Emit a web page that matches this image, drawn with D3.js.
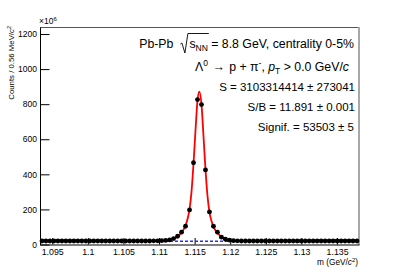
<!DOCTYPE html>
<html>
<head>
<meta charset="utf-8">
<script src="https://cdn.jsdelivr.net/npm/d3@7"></script>
<style>
  body { margin: 0; background: #fff; }
  svg { display: block; font-family: "Liberation Sans", Arial, sans-serif; }
</style>
</head>
<body>
<svg id="chart" width="399" height="272"></svg>
<script>
// histogram: 80 bins of 0.56 MeV around the Lambda mass (counts in units of 1e6)
const massLow = 1.093283;
const binWidth = 0.00056;
const counts = [
  20, 20, 20, 20, 20, 20, 20, 20, 20, 20,
  20, 20, 20, 20, 20, 20, 20, 20, 20, 20,
  20, 20, 20, 20, 20, 20, 20, 20, 21, 21,
  22, 23, 26, 34, 47, 70, 104, 197, 466, 826,
  798, 425, 186, 104, 70, 42, 30, 25, 22, 21,
  20, 20, 20, 20, 20, 20, 20, 20, 20, 20,
  20, 20, 20, 20, 20, 20, 20, 20, 20, 20,
  20, 20, 20, 20, 20, 20, 20, 20, 20, 20
];

// fit curve (signal + background)
const fitMass = [1.09328, 1.10873, 1.11014, 1.11084, 1.11148, 1.11205, 1.11261, 1.11317,
  1.11372, 1.11400, 1.11428, 1.11456, 1.11484, 1.11512, 1.11540, 1.11565, 1.11596,
  1.11624, 1.11652, 1.11680, 1.11708, 1.11736, 1.11764, 1.11820, 1.11876, 1.11932,
  1.11988, 1.12067, 1.12207, 1.13808];
const fitCounts = [19, 19.5, 20.5, 22, 25, 32, 45, 68,
  108, 145, 200, 300, 460, 650, 820, 872, 800,
  620, 430, 280, 185, 135, 102, 66, 44, 32,
  26, 22, 20, 19];

// background only
const bkgMass = [1.093283, 1.138083];
const bkgCounts = [18, 18];

const xTicks = [1.095, 1.1, 1.105, 1.11, 1.115, 1.12, 1.125, 1.13, 1.135];
const xMinor = d3.range(1094, 1139).map(d => d / 1000);
const yTicks = [0, 200, 400, 600, 800, 1000, 1200];
const yMinor = d3.range(0, 1240, 50);

const svg = d3.select("#chart");

const x = d3.scaleLinear()
  .domain([massLow, massLow + binWidth * counts.length])
  .range([40, 359]);
const y = d3.scaleLinear().domain([0, 1240]).range([244.5, 27]);

// frame: top and right borders
svg.append("line").attr("x1", 40).attr("x2", 359).attr("y1", 27.5).attr("y2", 27.5)
  .attr("stroke", "#555").attr("stroke-width", 1);
svg.append("line").attr("x1", 359).attr("x2", 359).attr("y1", 27).attr("y2", 245)
  .attr("stroke", "#a8a8a8").attr("stroke-width", 2);

// x axis
const gx = svg.append("g").attr("transform", "translate(0,244.5)");
gx.call(d3.axisBottom(x).tickValues(xMinor).tickSize(-3.3).tickSizeOuter(0).tickFormat(""));
gx.call(d3.axisBottom(x).tickValues(xTicks).tickSize(-6.5).tickSizeOuter(0).tickPadding(4)
  .tickFormat(d => String(+d.toFixed(3))));
gx.selectAll("text").attr("font-size", 8.8).attr("font-family", "Liberation Sans, Arial, sans-serif")
  .attr("fill", "#000");

// y axis
const gy = svg.append("g").attr("transform", "translate(40,0)");
gy.call(d3.axisLeft(y).tickValues(yMinor).tickSize(-4.8).tickSizeOuter(0).tickFormat(""));
gy.call(d3.axisLeft(y).tickValues(yTicks).tickSize(-9.5).tickSizeOuter(0).tickPadding(3)
  .tickFormat(d3.format("d")));
gy.selectAll("text").attr("font-size", 8.5).attr("font-family", "Liberation Sans, Arial, sans-serif")
  .attr("fill", "#000");

svg.selectAll(".domain").attr("stroke", "#000");
svg.selectAll(".tick line").attr("stroke", "#000");

// exponent label
const ex = svg.append("text").attr("x", 39).attr("y", 24).attr("font-size", 8.5);
ex.append("tspan").text("\u00d710");
ex.append("tspan").attr("dy", -3.5).attr("font-size", 6).text("6");

// axis titles
const yt = svg.append("text").attr("transform", "translate(14,26) rotate(-90)")
  .attr("text-anchor", "end").attr("font-size", 7.8);
yt.append("tspan").text("Counts / 0.56 MeV/");
yt.append("tspan").attr("font-style", "italic").text("c");
yt.append("tspan").attr("dy", -3.5).attr("font-size", 5.5).text("2");

const xt = svg.append("text").attr("x", 358).attr("y", 265).attr("text-anchor", "end")
  .attr("font-size", 8.3);
xt.append("tspan").text("m (GeV/");
xt.append("tspan").attr("font-style", "italic").text("c");
xt.append("tspan").attr("dy", -3.3).attr("font-size", 5.8).text("2");
xt.append("tspan").attr("dy", 3.3).text(")");

// background line
const line = d3.line().x(d => x(d[0])).y(d => y(d[1]));
svg.append("path")
  .datum(d3.zip(bkgMass, bkgCounts))
  .attr("d", line)
  .attr("fill", "none").attr("stroke", "#2b2bff").attr("stroke-width", 1.5)
  .attr("stroke-dasharray", "3,2");

// fit curve
svg.append("path")
  .datum(d3.zip(fitMass, fitCounts))
  .attr("d", line.curve(d3.curveMonotoneX))
  .attr("fill", "none").attr("stroke", "#ff0000").attr("stroke-width", 1.8);

// data points
const bins = counts.map((c, i) => ({ m: massLow + binWidth * (i + 0.5), c }));
svg.append("g").selectAll("line").data(bins).join("line")
  .attr("x1", d => x(d.m - binWidth / 2)).attr("x2", d => x(d.m + binWidth / 2))
  .attr("y1", d => y(d.c)).attr("y2", d => y(d.c))
  .attr("stroke", "#000").attr("stroke-width", 1);
svg.append("g").selectAll("circle").data(bins).join("circle")
  .attr("cx", d => x(d.m)).attr("cy", d => y(d.c)).attr("r", 2.4)
  .attr("fill", "#000");

// legend text
const fs = 11.5, fsTop = 12.3;
const t1 = svg.append("text").attr("x", 354).attr("y", 48).attr("text-anchor", "end").attr("font-size", fsTop);
t1.append("tspan").text("Pb-Pb");
t1.append("tspan").attr("dx", 16).text("s");
t1.append("tspan").attr("dy", 3).attr("font-size", 8.5).text("NN");
t1.append("tspan").attr("dy", -3).text(" = 8.8 GeV, centrality 0-5%");
{
  const node = t1.node();
  const sx = node.getStartPositionOfChar(5).x;
  const nx = node.getEndPositionOfChar(7).x;
  const yb = 48;
  svg.append("path")
    .attr("d", `M${sx - 9},${yb - 4} L${sx - 7.5},${yb - 5} L${sx - 4.5},${yb + 5} L${sx - 1.5},${yb - 14.5} L${nx + 1},${yb - 14.5}`)
    .attr("fill", "none").attr("stroke", "#000").attr("stroke-width", 0.9);
}

const t2 = svg.append("text").attr("x", 349).attr("y", 71).attr("text-anchor", "end").attr("font-size", fsTop);
t2.append("tspan").text("\u039b");
t2.append("tspan").attr("dy", -5).attr("font-size", 8.5).text("0");
t2.append("tspan").attr("dy", 5).attr("dx", 1).text(" \u2192 ");
t2.append("tspan").attr("dx", 1).text("p + \u03c0");
t2.append("tspan").attr("dy", -5).attr("font-size", 8.5).text("-");
t2.append("tspan").attr("dy", 5).text(", ");
t2.append("tspan").attr("font-style", "italic").text("p");
t2.append("tspan").attr("dy", 3).attr("font-size", 8.5).text("T");
t2.append("tspan").attr("dy", -3).text(" > 0.0 GeV/");
t2.append("tspan").attr("font-style", "italic").text("c");

svg.append("text").attr("x", 355).attr("y", 90.5).attr("text-anchor", "end").attr("font-size", fs)
  .text("S = 3103314414 \u00b1 273041");
svg.append("text").attr("x", 355).attr("y", 111).attr("text-anchor", "end").attr("font-size", fs)
  .text("S/B = 11.891 \u00b1 0.001");
svg.append("text").attr("x", 354).attr("y", 131).attr("text-anchor", "end").attr("font-size", fs)
  .text("Signif. = 53503 \u00b1 5");
</script>
</body>
</html>
